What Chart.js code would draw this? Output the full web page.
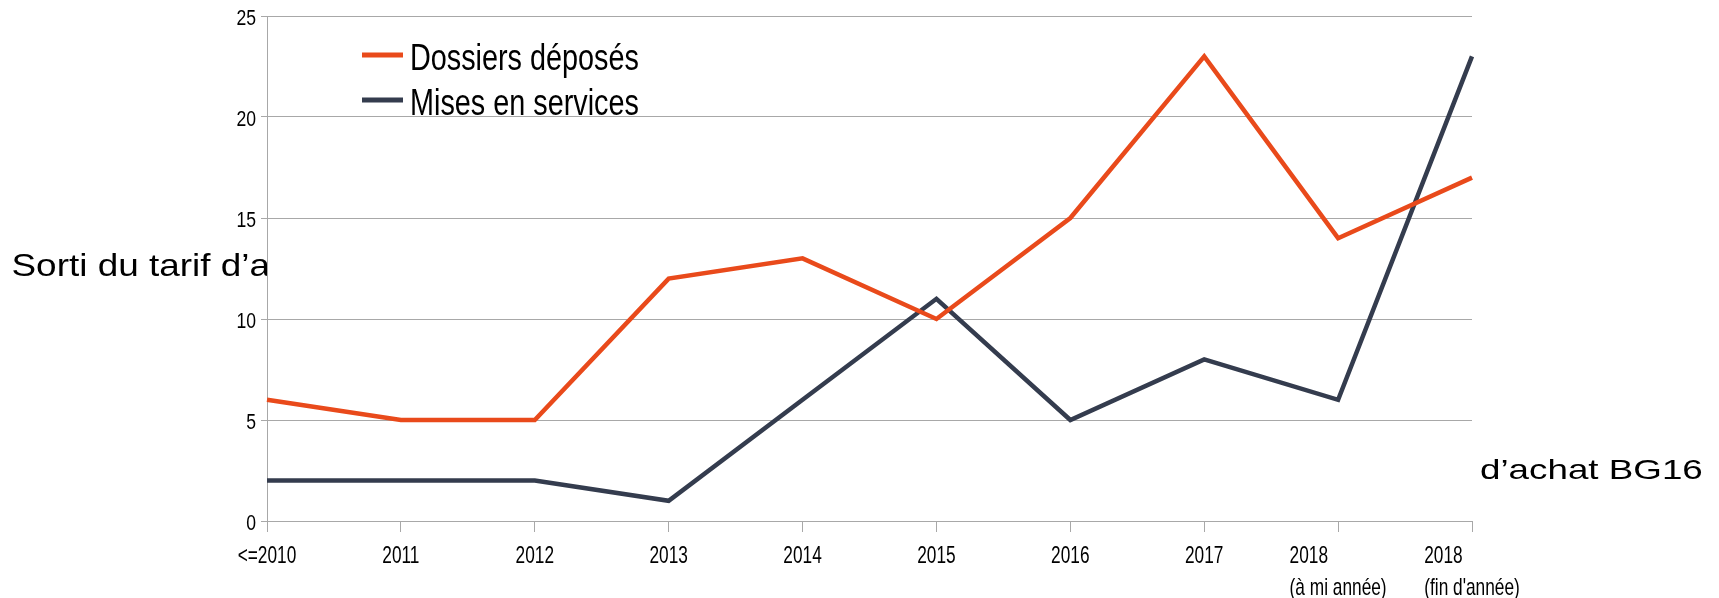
<!DOCTYPE html>
<html>
<head>
<meta charset="utf-8">
<script src="https://cdn.jsdelivr.net/npm/chart.js@4"></script>
<style>
  html, body { margin: 0; padding: 0; background: #ffffff; }
  canvas { display: block; }
</style>
</head>
<body>
<canvas id="c" width="1719" height="598"></canvas>
<script>
// ---- data ----
const categories = ['<=2010', '2011', '2012', '2013', '2014', '2015', '2016', '2017',
  ['2018', '(à mi année)'], ['2018', "(fin d'année)"]];
const dossiersDeposes = [6, 5, 5, 12, 13, 10, 15, 23, 14, 17];
const misesEnServices = [2, 2, 2, 1, 6, 11, 5, 8, 6, 23];
const seriesNames = ['Dossiers déposés', 'Mises en services'];
const yTickValues = [0, 5, 10, 15, 20, 25];
const titleLeft = 'Sorti du tarif d’a';
const titleRight = 'd’achat BG16';

// ---- styles ----
const ORANGE = '#e94a1b';
const DARK = '#343c4e';
const GRID = '#a8a8a8';
const FONT = '"Liberation Sans", Arial, sans-serif';

function drawScaled(ctx, text, x, y, align, size, sx) {
  ctx.save();
  ctx.translate(x, y);
  ctx.scale(sx, 1);
  ctx.font = size + 'px ' + FONT;
  ctx.textAlign = align;
  ctx.textBaseline = 'alphabetic';
  ctx.fillStyle = '#000';
  ctx.fillText(text, 0, 0);
  ctx.restore();
}

const decor = {
  id: 'decor',
  beforeDraw(chart) {
    const ctx = chart.ctx, a = chart.chartArea;
    ctx.save();
    ctx.fillStyle = '#fff';
    ctx.fillRect(0, 0, chart.width, chart.height);
    drawScaled(ctx, titleLeft, 11.5, 276, 'left', 30.5, 1.21);
    drawScaled(ctx, titleRight, 1480, 479, 'left', 28.5, 1.29);
    ctx.fillStyle = '#fff';
    ctx.fillRect(a.left, a.top, a.right - a.left, a.bottom - a.top);
    ctx.restore();
  },
  afterDraw(chart) {
    const ctx = chart.ctx;
    const ys = chart.scales.y, xs = chart.scales.x;
    // y tick labels
    yTickValues.forEach(v => {
      const py = ys.getPixelForValue(v);
      drawScaled(ctx, String(v), 256, py + 8.5, 'right', 22, 0.8);
    });
    // x tick labels (multi-line block, left aligned, centred on tick)
    const xs_sx = 0.72, xSize = 24;
    ctx.save();
    ctx.font = xSize + 'px ' + FONT;
    categories.forEach((lab, i) => {
      const px = xs.getPixelForValue(i);
      const lines = Array.isArray(lab) ? lab : [lab];
      const maxW = Math.max(...lines.map(l => ctx.measureText(l).width * xs_sx));
      const left = px - maxW / 2;
      lines.forEach((ln, j) => {
        drawScaled(ctx, ln, left, 563 + j * 32, 'left', xSize, xs_sx);
      });
    });
    ctx.restore();
    // legend
    chart.data.datasets.forEach((ds, i) => {
      const y = 55 + i * 45;
      ctx.save();
      ctx.strokeStyle = ds.borderColor;
      ctx.lineWidth = 5;
      ctx.beginPath();
      ctx.moveTo(362, y);
      ctx.lineTo(403, y);
      ctx.stroke();
      ctx.restore();
      drawScaled(ctx, ds.label, 410, y + 15, 'left', 36, 0.8);
    });
  }
};

new Chart(document.getElementById('c'), {
  type: 'line',
  data: {
    labels: categories,
    datasets: [
      { label: seriesNames[0], data: dossiersDeposes, borderColor: ORANGE, backgroundColor: ORANGE,
        borderWidth: 4.5, pointRadius: 0, tension: 0, fill: false, borderJoinStyle: 'miter' },
      { label: seriesNames[1], data: misesEnServices, borderColor: DARK, backgroundColor: DARK,
        borderWidth: 4.5, pointRadius: 0, tension: 0, fill: false, borderJoinStyle: 'miter' }
    ]
  },
  options: {
    responsive: false,
    animation: false,
    devicePixelRatio: 1,
    layout: { padding: { top: 16, right: 247, left: 0, bottom: 0 } },
    plugins: { legend: { display: false }, tooltip: { enabled: false } },
    scales: {
      x: {
        type: 'category',
        offset: false,
        grid: { drawOnChartArea: false, drawTicks: true, tickLength: 11, color: GRID, lineWidth: 1 },
        border: { color: GRID, width: 1 },
        ticks: { display: false, autoSkip: false },
        afterFit: s => { s.height = 77; }
      },
      y: {
        min: 0, max: 25,
        ticks: { display: false, stepSize: 5 },
        grid: { color: GRID, lineWidth: 1, drawTicks: true, tickLength: 6 },
        border: { color: GRID, width: 1 },
        afterFit: s => { s.width = 267; }
      }
    }
  },
  plugins: [decor]
});
</script>
</body>
</html>
